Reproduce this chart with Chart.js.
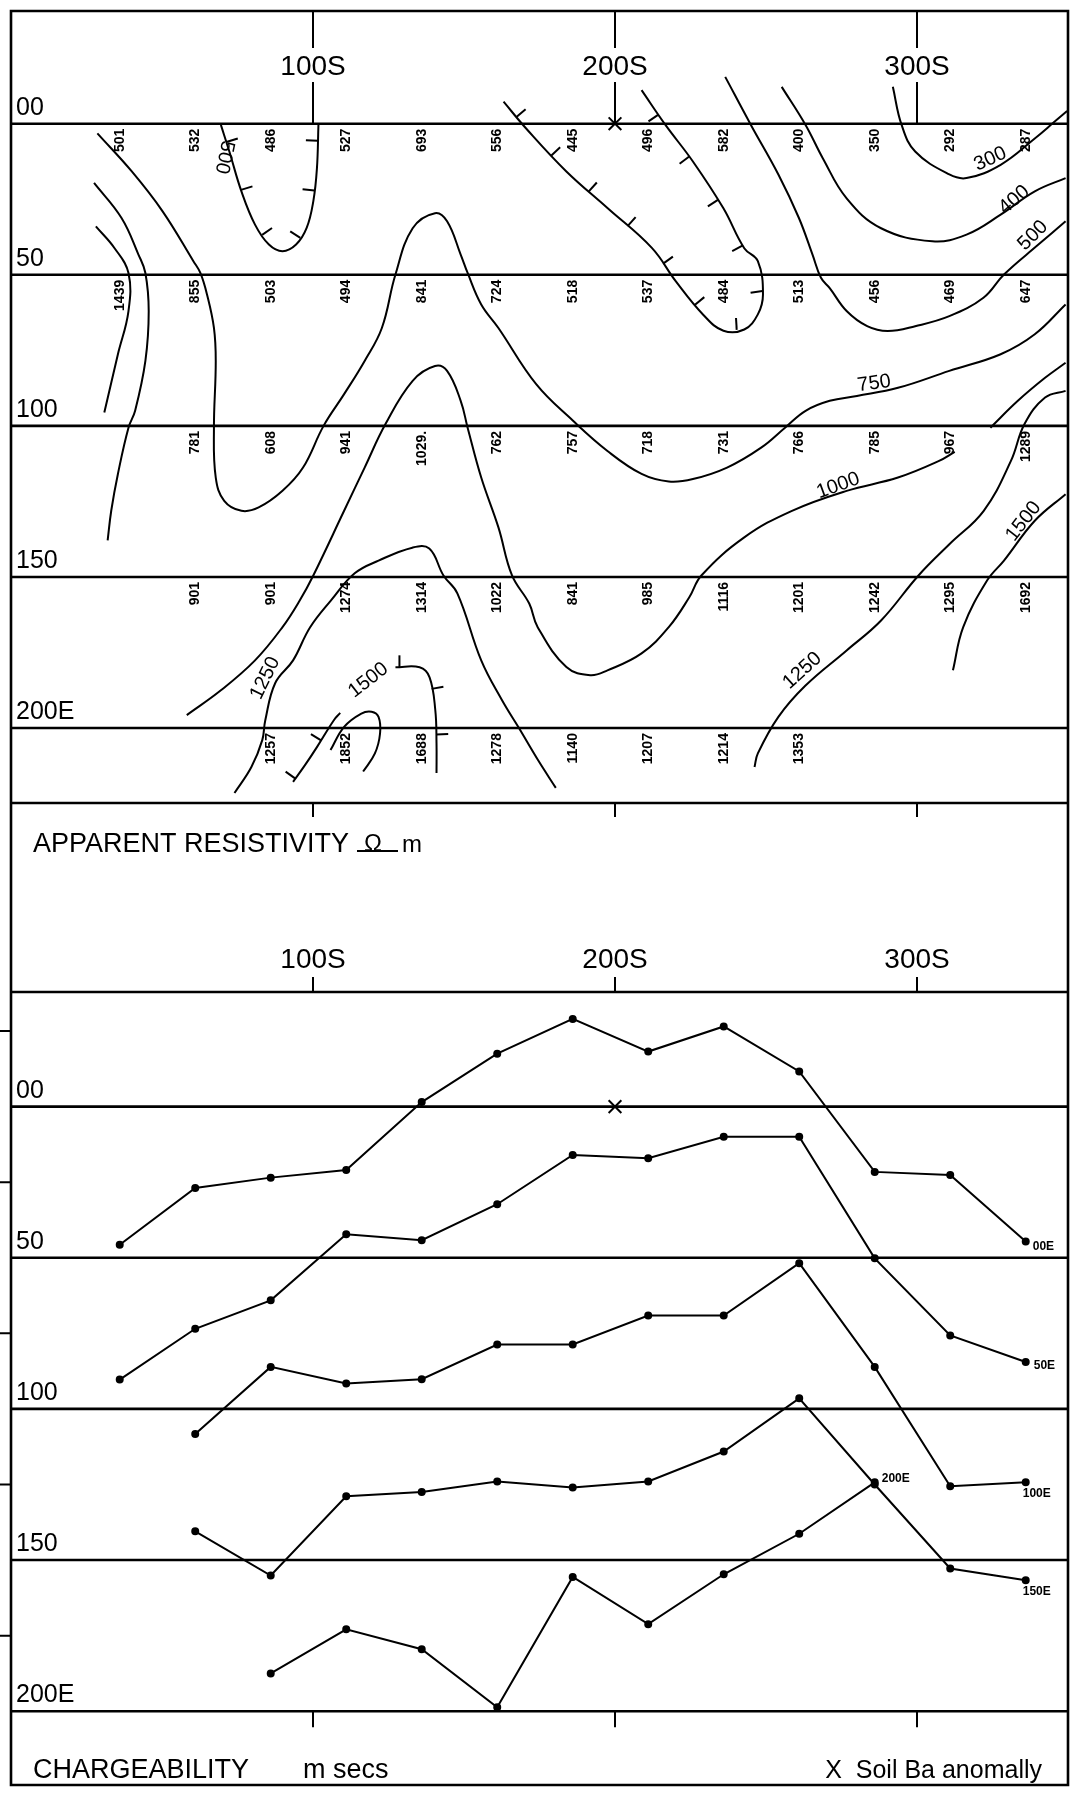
<!DOCTYPE html>
<html>
<head>
<meta charset="utf-8">
<script src="https://cdn.jsdelivr.net/npm/chart.js@4/dist/chart.umd.min.js"></script>
<style>
  html, body { margin: 0; padding: 0; background: #fff; }
  #wrap { position: relative; width: 1079px; height: 1796px; }
  canvas { position: absolute; left: 0; }
  #resChart { top: 0; }
  #ipChart { top: 880px; }
</style>
</head>
<body>
<div id="wrap">
  <canvas id="resChart" width="1079" height="880"></canvas>
  <canvas id="ipChart" width="1079" height="916"></canvas>
</div>
<script>
// stations along the traverse (S) and the survey lines (E)
const stations = [36, 61, 86, 111, 136, 161, 186, 211, 236, 261, 286, 311, 336];
const stationTicks = [100, 200, 300];
const stationTickLabels = ['100S', '200S', '300S'];
const surveyLines = [0, 50, 100, 150, 200];
const surveyLineLabels = ['00', '50', '100', '150', '200E'];
const soilBaAnomaly = [200];

// apparent resistivity, ohm m (one row per survey line level)
const resRow1 = [501, 532, 486, 527, 693, 556, 445, 496, 582, 400, 350, 292, 287];
const resRow2 = [1439, 855, 503, 494, 841, 724, 518, 537, 484, 513, 456, 469, 647];
const resRow3 = [null, 781, 608, 941, '1029.', 762, 757, 718, 731, 766, 785, 967, 1289];
const resRow4 = [null, 901, 901, 1274, 1314, 1022, 841, 985, 1116, 1201, 1242, 1295, 1692];
const resRow5 = [null, null, 1257, 1852, 1688, 1278, 1140, 1207, 1214, 1353, null, null, null];

// contour lines traced from the section: [station, line position]
const c750 = [[28.6,3.2],[40.0,15.8],[50.2,29.0],[60.4,45.5],[62.7,49.4],[64.9,56.5],[67.2,67.6],[67.8,78.5],[67.2,100.6],[67.8,117.1],[70.6,124.8],[76.3,128.1],[82.0,127.0],[89.9,121.5],[96.7,113.8],[103.5,100.0],[110.3,89.5],[117.1,78.5],[122.8,67.6],[127.3,49.9],[133.0,34.6],[140.4,29.6],[144.4,32.3],[148.9,43.3],[151.2,49.4],[155.7,59.8],[161.4,67.6],[173.9,86.2],[186.1,98.3],[197.5,108.3],[208.8,115.9],[217.8,118.4],[225.8,117.6],[237.1,113.8],[248.4,107.2],[256.3,100.6],[263.1,95.0],[271.1,91.7],[280.1,90.1],[293.7,87.4],[310.7,81.8],[327.7,76.3],[339.0,69.7],[349.2,59.8]];
const c1000West = [[27.5,19.6],[36.6,31.2],[42.2,43.3],[44.5,49.4],[45.6,62.1],[44.5,78.5],[41.1,95.0],[38.9,100.6],[35.4,115.9],[33.2,128.0],[32.0,137.9]];
const c1250West = [[28.1,34.0],[34.3,41.2],[38.9,49.4],[38.9,62.0],[35.4,76.3],[30.9,95.6]];
const c500Low = [[69.5,0.4],[72.3,9.2],[76.3,22.4],[80.8,33.4],[85.4,40.0],[89.9,42.2],[94.4,40.0],[97.9,34.5],[100.1,25.7],[101.3,14.8],[101.8,0.4]];
const c500Trough = [[163.1,-7.3],[170.5,1.5],[183.9,15.8],[197.5,27.9],[212.2,41.1],[220.1,52.1],[229.2,63.2],[235.9,68.5],[242.8,68.1],[247.3,63.1],[249.0,56.5],[247.3,45.5],[242.8,41.2],[235.9,28.0],[225.8,12.5],[216.7,0.4],[208.8,-11.1]];
const c500 = [[236.5,-15.5],[245.0,0.4],[254.1,16.8],[260.9,31.2],[265.4,43.3],[268.2,51.0],[271.1,54.4],[276.7,62.0],[283.5,67.0],[290.3,68.6],[299.4,67.0],[310.7,63.7],[322.0,57.6],[328.8,49.9],[340.2,40.0],[349.2,32.3]];
const c400 = [[255.2,-12.2],[263.1,0.4],[268.8,11.4],[276.7,24.7],[288.1,34.6],[305.1,38.9],[316.4,36.7],[327.7,30.1],[339.0,22.4],[349.2,18.0]];
const c300 = [[292.0,-12.2],[294.9,0.4],[299.4,9.2],[310.7,16.8],[316.4,18.0],[327.7,13.6],[339.0,4.9],[345.6,-0.7],[349.7,-4.2]];
const c1000 = [[58.2,195.7],[69.5,187.5],[80.8,177.6],[89.9,166.6],[95.6,157.8],[100.1,149.5],[110.3,128.1],[117.1,113.8],[124.0,99.4],[133.0,85.1],[140.4,80.2],[144.4,81.8],[148.9,91.7],[151.2,100.6],[155.7,117.1],[161.4,133.6],[165.9,149.5],[171.6,158.8],[174.4,166.6],[183.9,179.8],[191.8,182.5],[197.5,180.9],[208.8,175.3],[217.8,166.6],[224.6,156.7],[228.6,149.5],[242.8,136.9],[258.6,128.1],[276.7,121.5],[293.7,117.1],[307.3,111.6],[312.5,108.6],null,[324.3,100.6],[333.4,91.7],[342.4,84.1],[349.2,79.1]];
const c1250Loop = [[74.0,221.5],[79.6,212.9],[83.2,204.0],[84.2,197.4],[87.5,185.1],[93.4,177.6],[99.0,166.7],[105.9,157.8],[113.8,148.8],[121.7,144.6],[132.9,140.3],[138.5,140.6],[143.2,149.5],[147.8,155.4],[155.7,177.6],[162.6,190.8],[168.2,200.0],[174.5,210.6],[180.4,219.8]];
const c1500Loop = [[93.4,217.8],[97.4,212.2],[101.3,206.3],[106.9,197.4],[109.0,195.0],null,[127.3,179.9],[135.3,179.9],[138.6,183.2],[140.5,194.1],[140.9,205.0],[140.9,214.9]];
const cInner = [[105.8,207.3],[110.3,199.6],[116.0,195.2],[119.4,194.6],[121.7,196.3],[122.2,201.8],[120.5,208.4],[116.6,214.4]];
const c1250East = [[349.2,88.4],[342.4,90.6],[335.6,99.4],[331.1,111.6],[322.1,128.1],[310.8,139.1],[300.5,149.5],[288.1,164.4],[276.7,174.3],[263.0,186.0],[254.1,196.3],[247.3,208.4],[246.2,212.9]];
const c1500East = [[349.2,122.6],[339.0,131.4],[328.8,144.6],[323.2,151.2],[315.3,166.6],[311.9,180.9]];

// contour labels: text, station, line position, angle (deg)
const contourLabels = [
  ['300', 324.3, 11.7, -25], ['400', 332.2, 25.2, -40], ['500', 338.4, 37.0, -45],
  ['750', 285.8, 86.0, -8], ['1000', 273.9, 119.8, -20], ['1250', 262.0, 181.0, -42],
  ['1500', 335.3, 131.6, -52], ['1250', 84.2, 183.5, -64], ['1500', 118.3, 184.2, -38],
  ['500', 70.6, 11.1, 102]
];

// chargeability profiles (m secs), plotted as offsets on the line scale
const ip00E  = [45.7, 26.9, 23.5, 21.0, -1.5, -17.5, -29.0, -18.2, -26.5, -11.6, 21.6, 22.6, 44.6];
const ip50E  = [90.3, 73.5, 64.1, 42.2, 44.2, 32.3, 16.0, 17.1, 10.0, 10.0, 50.2, 75.7, 84.5];
const ip100E = [null, 108.3, 86.1, 91.6, 90.2, 78.7, 78.7, 69.1, 69.1, 51.8, 86.1, 125.6, 124.3];
const ip150E = [null, 140.5, 155.1, 128.9, 127.5, 124.0, 126.0, 124.0, 114.1, 96.5, 125.0, 152.8, 156.7];
const ip200E = [null, null, 187.5, 172.9, 179.5, 198.7, 155.6, 171.2, 154.7, 141.3, 124.3, null, null];
const profileNames = ['00E', '50E', '100E', '150E', '200E'];
const chargeTicks = [-25, 25, 75, 125, 175];

const FONT = '"Liberation Sans", Arial, Helvetica, sans-serif';

function toXY(pts) {
  let lastX = 0;
  return pts.map(p => {
    if (!p) return {x: lastX, y: null};
    lastX = p[0];
    return {x: p[0], y: p[1]};
  });
}

function profileXY(vals) {
  return vals.map((v, i) => v === null ? null : {x: stations[i], y: v}).filter(p => p);
}

const contourSets = [c750, c1000West, c1250West, c500Low, c500Trough, c500, c400, c300,
  c1000, c1250Loop, c1500Loop, cInner, c1250East, c1500East];

const hatches = [
  {pts: c500Low, spacing: 50, offset: 18},
  {pts: c500Trough, spacing: 52, offset: 20},
  {pts: c1500Loop, spacing: 46, offset: 4}
];

function drawHatch(ctx, xs, ys, h) {
  const runs = [];
  let cur = [];
  h.pts.forEach(p => {
    if (!p) { if (cur.length) runs.push(cur); cur = []; return; }
    cur.push([xs.getPixelForValue(p[0]), ys.getPixelForValue(p[1])]);
  });
  if (cur.length) runs.push(cur);
  runs.forEach(run => {
    let next = h.offset, walked = 0;
    for (let i = 1; i < run.length; i++) {
      const [x0, y0] = run[i - 1], [x1, y1] = run[i];
      const len = Math.hypot(x1 - x0, y1 - y0);
      const dx = (x1 - x0) / len, dy = (y1 - y0) / len;
      while (next <= walked + len) {
        const t = next - walked;
        const px = x0 + dx * t, py = y0 + dy * t;
        ctx.beginPath();
        ctx.moveTo(px, py);
        ctx.lineTo(px + dy * 12, py - dx * 12);
        ctx.stroke();
        next += h.spacing;
      }
      walked += len;
    }
  });
}

function drawLineLabels(ctx, a, y) {
  ctx.font = '25px ' + FONT;
  ctx.textAlign = 'left';
  ctx.textBaseline = 'alphabetic';
  surveyLines.forEach((v, i) => ctx.fillText(surveyLineLabels[i], 16, y.getPixelForValue(v) - 9));
}

const resistivityPlugin = {
  id: 'resFrame',
  beforeDatasetsDraw(chart) {
    const {ctx, chartArea: a, scales: {x, y}} = chart;
    ctx.save();
    ctx.strokeStyle = '#000';
    ctx.lineWidth = 2.6;
    ctx.beginPath();
    ctx.moveTo(a.left, chart.height); ctx.lineTo(a.left, a.top);
    ctx.lineTo(a.right, a.top); ctx.lineTo(a.right, chart.height);
    ctx.moveTo(a.left, a.bottom); ctx.lineTo(a.right, a.bottom);
    surveyLines.forEach(v => {
      const py = y.getPixelForValue(v);
      ctx.moveTo(a.left, py); ctx.lineTo(a.right, py);
    });
    ctx.stroke();
    ctx.lineWidth = 2;
    const labelY = 67;
    stationTicks.forEach(v => {
      const px = x.getPixelForValue(v);
      ctx.beginPath();
      ctx.moveTo(px, a.top); ctx.lineTo(px, labelY - 19);
      ctx.moveTo(px, labelY + 15); ctx.lineTo(px, y.getPixelForValue(0));
      ctx.moveTo(px, a.bottom); ctx.lineTo(px, a.bottom + 14);
      ctx.stroke();
    });
    ctx.restore();
  },
  afterDatasetsDraw(chart) {
    const {ctx, chartArea: a, scales: {x, y}} = chart;
    ctx.save();
    ctx.fillStyle = '#000';
    ctx.strokeStyle = '#000';
    // hatch marks on the lows
    ctx.lineWidth = 2;
    hatches.forEach(h => drawHatch(ctx, x, y, h));
    // station labels
    ctx.font = '28px ' + FONT;
    ctx.textAlign = 'center';
    ctx.textBaseline = 'middle';
    stationTicks.forEach((v, i) => ctx.fillText(stationTickLabels[i], x.getPixelForValue(v), 67));
    drawLineLabels(ctx, a, y);
    // resistivity values, rotated
    const rows = [resRow1, resRow2, resRow3, resRow4, resRow5];
    ctx.font = 'bold 14px ' + FONT;
    ctx.textAlign = 'right';
    ctx.textBaseline = 'middle';
    rows.forEach((row, r) => {
      const py = y.getPixelForValue(surveyLines[r]) + 5;
      row.forEach((v, k) => {
        if (v === null) return;
        ctx.save();
        ctx.translate(x.getPixelForValue(stations[k]), py);
        ctx.rotate(-Math.PI / 2);
        ctx.fillText(String(v), 0, 0);
        ctx.restore();
      });
    });
    // contour labels
    ctx.font = '20px ' + FONT;
    ctx.textAlign = 'center';
    contourLabels.forEach(([t, sx, sy, ang]) => {
      ctx.save();
      ctx.translate(x.getPixelForValue(sx), y.getPixelForValue(sy));
      ctx.rotate(ang * Math.PI / 180);
      ctx.fillText(t, 0, 0);
      ctx.restore();
    });
    // title
    ctx.font = '27px ' + FONT;
    ctx.textAlign = 'left';
    ctx.textBaseline = 'alphabetic';
    ctx.fillText('APPARENT RESISTIVITY', 33, 852);
    ctx.font = '24px ' + FONT;
    ctx.fillText('\u03A9', 364, 851);
    ctx.fillText('m', 402, 852);
    ctx.lineWidth = 2;
    ctx.beginPath();
    ctx.moveTo(357, 851); ctx.lineTo(398, 851);
    ctx.stroke();
    ctx.restore();
  }
};

const chargeabilityPlugin = {
  id: 'ipFrame',
  beforeDatasetsDraw(chart) {
    const {ctx, chartArea: a, scales: {x, y}} = chart;
    ctx.save();
    ctx.strokeStyle = '#000';
    ctx.lineWidth = 2.6;
    ctx.beginPath();
    ctx.moveTo(a.left, 0); ctx.lineTo(a.left, a.bottom);
    ctx.lineTo(a.right, a.bottom); ctx.lineTo(a.right, 0);
    ctx.moveTo(a.left, a.top); ctx.lineTo(a.right, a.top);
    surveyLines.forEach(v => {
      const py = y.getPixelForValue(v);
      ctx.moveTo(a.left, py); ctx.lineTo(a.right, py);
    });
    ctx.stroke();
    ctx.lineWidth = 2;
    ctx.beginPath();
    stationTicks.forEach(v => {
      const px = x.getPixelForValue(v);
      ctx.moveTo(px, a.top - 15); ctx.lineTo(px, a.top);
      const pb = y.getPixelForValue(200);
      ctx.moveTo(px, pb); ctx.lineTo(px, pb + 16);
    });
    chargeTicks.forEach(v => {
      const py = y.getPixelForValue(v);
      ctx.moveTo(0, py); ctx.lineTo(a.left, py);
    });
    ctx.stroke();
    ctx.restore();
  },
  afterDatasetsDraw(chart) {
    const {ctx, chartArea: a, scales: {x, y}} = chart;
    ctx.save();
    ctx.fillStyle = '#000';
    ctx.font = '28px ' + FONT;
    ctx.textAlign = 'center';
    ctx.textBaseline = 'middle';
    stationTicks.forEach((v, i) => ctx.fillText(stationTickLabels[i], x.getPixelForValue(v), a.top - 32));
    drawLineLabels(ctx, a, y);
    // profile names at the line ends
    const offs = [[7, 5, 'left'], [8, 4, 'left'], [-3, 11, 'left'], [-3, 11, 'left'], [7, -4, 'left']];
    ctx.font = 'bold 12px ' + FONT;
    ctx.textBaseline = 'middle';
    profileNames.forEach((name, i) => {
      const meta = chart.getDatasetMeta(i);
      const last = meta.data[meta.data.length - 1];
      ctx.textAlign = offs[i][2];
      ctx.fillText(name, last.x + offs[i][0], last.y + offs[i][1]);
    });
    ctx.font = '27px ' + FONT;
    ctx.textAlign = 'left';
    ctx.textBaseline = 'alphabetic';
    ctx.fillText('CHARGEABILITY', 33, 898);
    ctx.fillText('m secs', 303, 898);
    ctx.font = '25px ' + FONT;
    ctx.textAlign = 'right';
    ctx.fillText('X  Soil Ba anomally', 1042, 898);
    ctx.restore();
  }
};

const xScale = {type: 'linear', min: 0, max: 350, display: false};
const commonOpts = {
  responsive: false,
  animation: false,
  events: [],
  plugins: {legend: {display: false}, tooltip: {enabled: false}}
};

const anomalySet = {
  data: soilBaAnomaly.map(s => ({x: s, y: 0})),
  showLine: false,
  pointStyle: 'crossRot',
  pointRadius: 9,
  borderColor: '#000',
  borderWidth: 2
};

new Chart(document.getElementById('resChart'), {
  type: 'scatter',
  data: {
    datasets: contourSets.map(c => ({
      data: toXY(c),
      showLine: true,
      spanGaps: false,
      borderColor: '#000',
      borderWidth: 2,
      pointRadius: 0,
      tension: 0.4
    })).concat([anomalySet])
  },
  options: Object.assign({}, commonOpts, {
    layout: {padding: {left: 9.5, right: 7.6, top: 9, bottom: 77}},
    scales: {
      x: xScale,
      y: {type: 'linear', min: -37.3, max: 224.8, reverse: true, display: false}
    }
  }),
  plugins: [resistivityPlugin]
});

new Chart(document.getElementById('ipChart'), {
  type: 'scatter',
  data: {
    datasets: [ip00E, ip50E, ip100E, ip150E, ip200E].map(p => ({
      data: profileXY(p),
      showLine: true,
      borderColor: '#000',
      borderWidth: 2,
      pointRadius: 3,
      pointBackgroundColor: '#000',
      pointBorderColor: '#000',
      tension: 0
    })).concat([Object.assign({}, anomalySet)])
  },
  options: Object.assign({}, commonOpts, {
    layout: {padding: {left: 9.5, right: 9.5, top: 112, bottom: 8}},
    scales: {
      x: xScale,
      y: {type: 'linear', min: -37.9, max: 224.4, reverse: true, display: false}
    }
  }),
  plugins: [chargeabilityPlugin]
});
</script>
</body>
</html>
